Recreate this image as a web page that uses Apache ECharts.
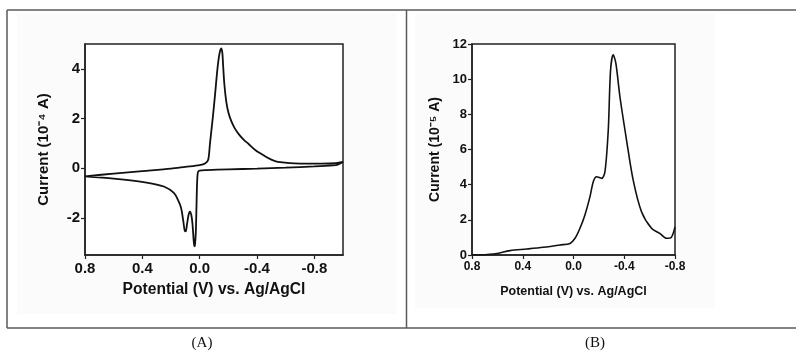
<!DOCTYPE html>
<html>
<head>
<meta charset="utf-8">
<script src="https://cdn.jsdelivr.net/npm/echarts@6/dist/echarts.min.js"></script>
<style>
html,body{margin:0;padding:0;background:#fff;}
#c{width:796px;height:351px;}
</style>
</head>
<body>
<div id="c"></div>
<script>
// Panel A: cyclic voltammogram, potential (V) and current (1e-4 A)
var cvPotential = [0.8,0.6,0.4,0.2,0.1,0.0,-0.04,-0.06,-0.072,-0.091,-0.108,-0.124,-0.138,-0.15,-0.158,-0.163,-0.172,-0.185,-0.2,-0.22,-0.245,-0.275,-0.31,-0.34,-0.39,-0.45,-0.5,-0.545,-0.7,-0.85,-0.95,-1.0,
  -0.95,-0.8,-0.6,-0.4,-0.2,-0.05,0.0,0.012,0.018,0.022,0.027,0.033,0.037,0.042,0.05,0.058,0.068,0.078,0.088,0.097,0.105,0.115,0.13,0.15,0.18,0.25,0.37,0.6,0.8];
var cvCurrent = [-0.33,-0.22,-0.12,-0.02,0.05,0.12,0.2,0.35,1.0,2.0,3.0,4.0,4.6,4.82,4.65,4.2,3.4,2.7,2.25,1.9,1.6,1.35,1.13,0.98,0.72,0.5,0.34,0.25,0.18,0.18,0.2,0.25,
  0.12,0.07,0.02,-0.02,-0.05,-0.08,-0.1,-0.16,-0.6,-1.5,-2.6,-3.1,-3.15,-2.9,-2.25,-1.9,-1.75,-1.9,-2.25,-2.55,-2.5,-2.1,-1.6,-1.3,-1.0,-0.74,-0.58,-0.42,-0.33];
// Panel B: stripping curve, potential (V) and current (1e-5 A)
var spPotential = [0.8,0.63,0.5,0.368,0.237,0.106,0.027,-0.012,-0.051,-0.09,-0.13,-0.156,-0.182,-0.222,-0.248,-0.274,-0.292,-0.313,-0.334,-0.366,-0.418,-0.47,-0.536,-0.615,-0.68,-0.732,-0.77,-0.8];
var spCurrent = [0,0.06,0.25,0.34,0.44,0.57,0.66,0.95,1.52,2.28,3.32,4.17,4.45,4.36,4.74,7.11,10.5,11.38,10.9,9.0,6.54,4.27,2.46,1.52,1.23,0.95,1.0,1.6];
var xTicks = [0.8,0.4,0.0,-0.4,-0.8];
var yTicksA = [-2,0,2,4];
var yTicksB = [0,2,4,6,8,10,12];

function pairs(xs, ys){ return xs.map(function(x,i){ return [x, ys[i]]; }); }

var chart = echarts.init(document.getElementById('c'));
var ink = '#111';
var fam = 'Liberation Sans, Arial';
function xAxisCfg(idx, mn, mx, fs, nfs, gap){
  return {
    gridIndex: idx, type: 'value', min: mn, max: mx, inverse: true,
    name: 'Potential (V) vs. Ag/AgCl', nameLocation: 'middle', nameGap: gap,
    nameTextStyle: {fontFamily: fam, fontWeight: 'bold', fontSize: nfs, color: ink},
    axisLine: {show: true, onZero: false, lineStyle: {color: '#222', width: 1.5}},
    axisTick: {show: true, inside: false, length: 4, customValues: xTicks, lineStyle: {color: '#222', width: 1.2}},
    axisLabel: {customValues: xTicks, margin: 6, fontFamily: fam, fontWeight: 'bold', fontSize: fs, color: ink,
      formatter: function(v){ return (Math.abs(v) < 1e-9 ? 0 : v).toFixed(1); }},
    splitLine: {show: false}
  };
}
function yAxisCfg(idx, mn, mx, ticks, name, fs, nfs, gap){
  return {
    gridIndex: idx, type: 'value', min: mn, max: mx,
    name: name, nameLocation: 'middle', nameGap: gap, nameRotate: 90,
    nameTextStyle: {fontFamily: fam, fontWeight: 'bold', fontSize: nfs, color: ink},
    axisLine: {show: true, onZero: false, lineStyle: {color: '#222', width: 1.5}},
    axisTick: {show: true, inside: false, length: 4, customValues: ticks, lineStyle: {color: '#222', width: 1.2}},
    axisLabel: {customValues: ticks, margin: 5, fontFamily: fam, fontWeight: 'bold', fontSize: fs, color: ink},
    splitLine: {show: false}
  };
}
var frameStyle = {stroke: '#5a5a5a', lineWidth: 1.5};
chart.setOption({
  animation: false,
  backgroundColor: '#fff',
  grid: [
    {left: 85, top: 44, width: 258, height: 211, show: true, borderColor: '#222', borderWidth: 1.5, backgroundColor: '#fff', containLabel: false},
    {left: 472, top: 44, width: 203, height: 211, show: true, borderColor: '#222', borderWidth: 1.5, backgroundColor: '#fff', containLabel: false}
  ],
  xAxis: [xAxisCfg(0, -1.0, 0.8, 15, 15.6, 27), xAxisCfg(1, -0.8, 0.8, 12, 12.5, 30)],
  yAxis: [yAxisCfg(0, -3.5, 5, yTicksA, 'Current (10\u207B\u2074 A)', 15, 15, 34),
          yAxisCfg(1, 0, 12, yTicksB, 'Current (10\u207B\u2075 A)', 13, 14, 30)],
  series: [
    {type: 'line', xAxisIndex: 0, yAxisIndex: 0, data: pairs(cvPotential, cvCurrent), showSymbol: false, smooth: 0.3,
      lineStyle: {color: '#111', width: 1.8}, z: 5},
    {type: 'line', xAxisIndex: 1, yAxisIndex: 1, data: pairs(spPotential, spCurrent), showSymbol: false, smooth: 0.3,
      lineStyle: {color: '#111', width: 1.6}, z: 5}
  ],
  graphic: [
    {type: 'rect', z: -10, shape: {x: 17, y: 14, width: 380, height: 300}, style: {fill: '#fbfbfb'}},
    {type: 'rect', z: -10, shape: {x: 415, y: 14, width: 300, height: 294}, style: {fill: '#fbfbfb'}},
    {type: 'line', shape: {x1: 7, y1: 10, x2: 796, y2: 10}, style: frameStyle},
    {type: 'line', shape: {x1: 7, y1: 328, x2: 796, y2: 328}, style: frameStyle},
    {type: 'line', shape: {x1: 7, y1: 10, x2: 7, y2: 328}, style: frameStyle},
    {type: 'line', shape: {x1: 406.5, y1: 10, x2: 406.5, y2: 328}, style: frameStyle},
    {type: 'text', x: 202, y: 343, style: {text: '(A)', fontFamily: 'Liberation Serif, Times New Roman', fontSize: 15, fill: '#111', textAlign: 'center', textVerticalAlign: 'middle'}},
    {type: 'text', x: 595, y: 343, style: {text: '(B)', fontFamily: 'Liberation Serif, Times New Roman', fontSize: 15, fill: '#111', textAlign: 'center', textVerticalAlign: 'middle'}}
  ]
});
</script>
</body>
</html>
